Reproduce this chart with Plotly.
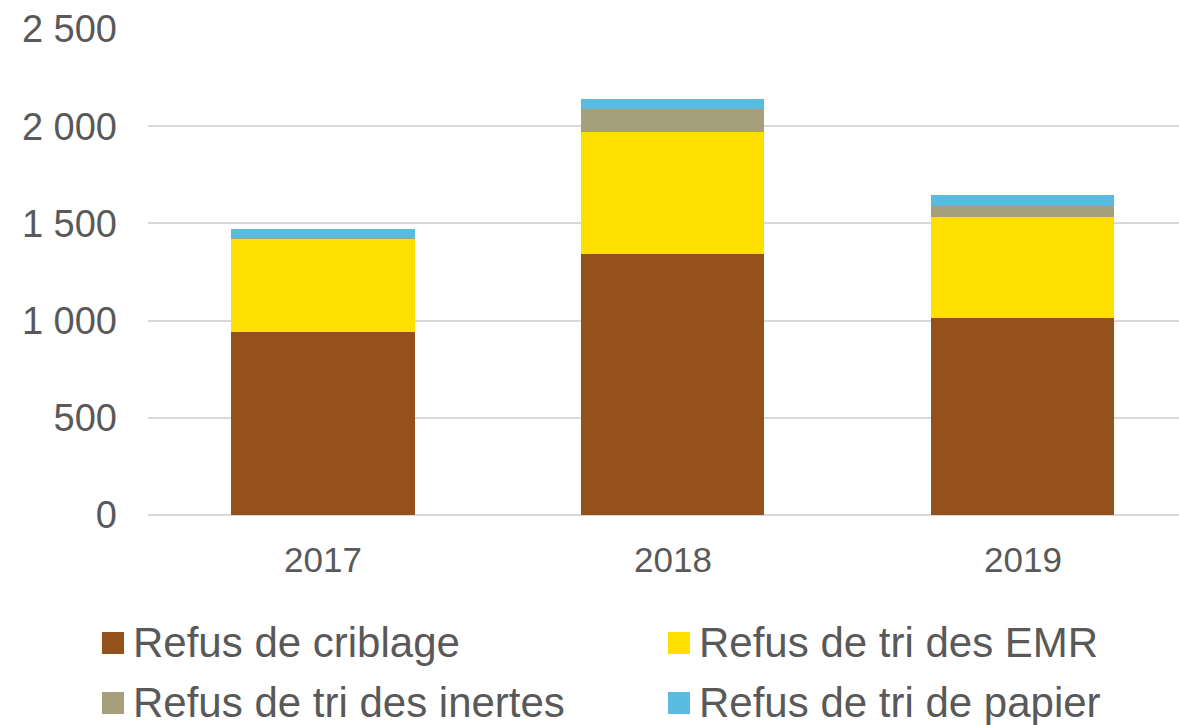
import plotly.graph_objects as go

years = ["2017", "2018", "2019"]
criblage = [942, 1343, 1015]
tri_emr = [479, 628, 518]
tri_inertes = [3, 115, 58]
tri_papier = [45, 53, 55]

series_names = ["Refus de criblage", "Refus de tri des EMR", "Refus de tri des inertes", "Refus de tri de papier"]
series_values = [criblage, tri_emr, tri_inertes, tri_papier]
colors = ["#95511C", "#FFDF00", "#A59F7C", "#5ABBE0"]

W, H = 1179, 725
ML, MR, MT, MB = 148, 0, 29, 210
PW, PH = W - ML - MR, H - MT - MB

def px_x(p):
    return (p - ML) / PW

def px_y(p):
    return (H - MB - p) / PH

fig = go.Figure()
for name, vals, col in zip(series_names, series_values, colors):
    fig.add_trace(go.Bar(x=years, y=vals, name=name, marker=dict(color=col, line=dict(width=0)),
                         width=0.523, showlegend=False))

text_col = "#595959"
font_fam = "Arial, Liberation Sans, sans-serif"

# manual two-column legend (entries: square + label)
legend_pos = [(102, 643), (668, 643), (102, 703), (668, 703)]
shapes, annos = [], []
for (lx, ly), name, col in zip(legend_pos, series_names, colors):
    shapes.append(dict(type="rect", xref="paper", yref="paper",
                       x0=px_x(lx), x1=px_x(lx + 22), y0=px_y(ly + 11), y1=px_y(ly - 11),
                       fillcolor=col, line=dict(width=0)))
    annos.append(dict(text=name, xref="paper", yref="paper", x=px_x(lx + 30), y=px_y(ly - 1),
                      xanchor="left", yanchor="middle", showarrow=False, borderpad=0,
                      font=dict(family=font_fam, size=42, color=text_col)))

fig.update_layout(
    barmode="stack",
    width=W, height=H,
    margin=dict(l=ML, r=MR, t=MT, b=MB, autoexpand=False),
    paper_bgcolor="white", plot_bgcolor="white",
    separators=", ",
    showlegend=False,
    font=dict(family=font_fam, size=36, color=text_col),
    xaxis=dict(type="category", range=[-0.5, 2.446], showgrid=False, showline=False,
               ticks="", ticklabelstandoff=21, tickfont=dict(size=35, color=text_col)),
    yaxis=dict(range=[0, 2500], dtick=500, tickformat=",d", showgrid=True, gridcolor="#D9D9D9",
               gridwidth=2, zeroline=True, zerolinecolor="#D9D9D9", zerolinewidth=2, showline=False,
               ticks="", ticklabelstandoff=30, tickfont=dict(size=38, color=text_col)),
    shapes=shapes,
    annotations=annos,
)
fig.write_html("out.html", config={"displayModeBar": False},
               post_script="document.body.style.margin='0';document.body.style.overflow='hidden';")
